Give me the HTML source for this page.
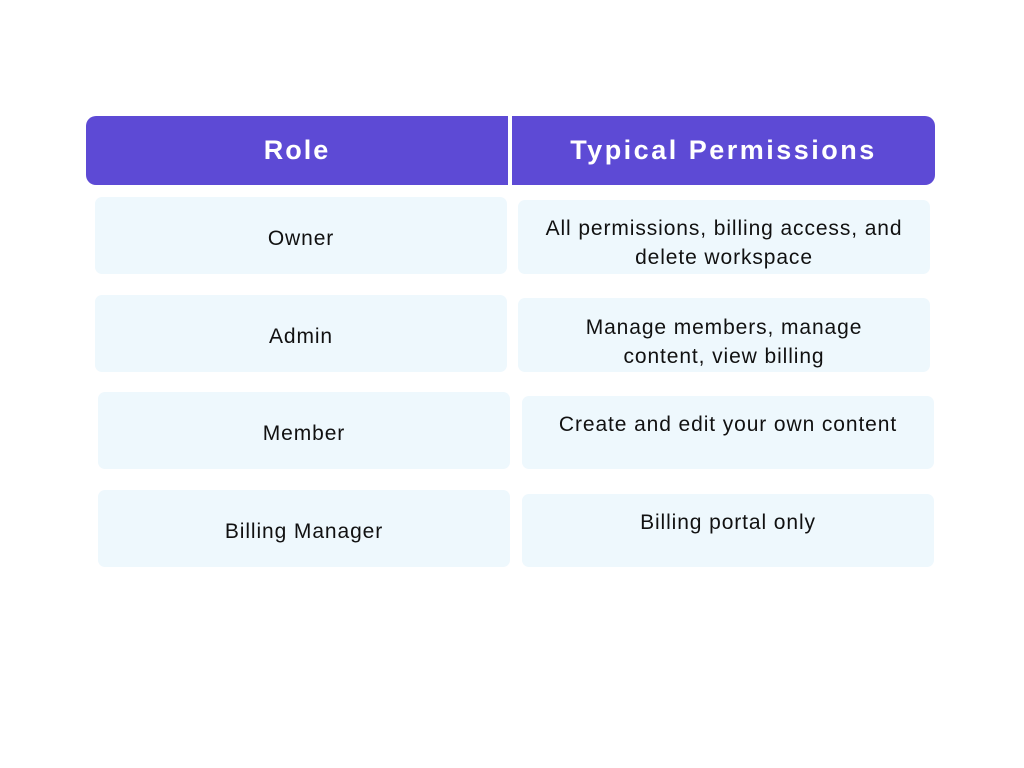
<!DOCTYPE html>
<html><head><style>
body{margin:0;width:1024px;height:768px;background:#fff;position:relative;font-family:"Liberation Sans",sans-serif;overflow:hidden}
.h{position:absolute;background:#5d4ad5;color:#fff;font-weight:bold;font-size:27px;display:flex;align-items:center;justify-content:center;top:116px;height:69px;letter-spacing:2px}
.c{position:absolute;background:#eef8fd;border-radius:7px;color:#111;font-size:21px;letter-spacing:0.9px;display:flex;align-items:center;justify-content:center;text-align:center;line-height:29px;box-sizing:border-box;padding-top:6px}
.t{align-items:flex-start}
</style></head><body>
<div class="h" style="left:86px;width:422px;border-radius:10px 0 0 10px">Role</div>
<div class="h" style="left:512px;width:423px;border-radius:0 10px 10px 0;letter-spacing:2.5px">Typical Permissions</div>
<div class="c" style="left:95px;top:197px;width:412px;height:77px">Owner</div>
<div class="c t" style="left:518px;top:200px;width:412px;height:74px;padding-top:14px">All permissions, billing access, and<br>delete workspace</div>
<div class="c" style="left:95px;top:295px;width:412px;height:77px">Admin</div>
<div class="c t" style="left:518px;top:298px;width:412px;height:74px;padding-top:15px">Manage members, manage<br>content, view billing</div>
<div class="c" style="left:98px;top:392px;width:412px;height:77px">Member</div>
<div class="c t" style="left:522px;top:396px;width:412px;height:73px;padding-top:14px">Create and edit your own content</div>
<div class="c" style="left:98px;top:490px;width:412px;height:77px">Billing Manager</div>
<div class="c t" style="left:522px;top:494px;width:412px;height:73px;padding-top:14px">Billing portal only</div>
</body></html>
